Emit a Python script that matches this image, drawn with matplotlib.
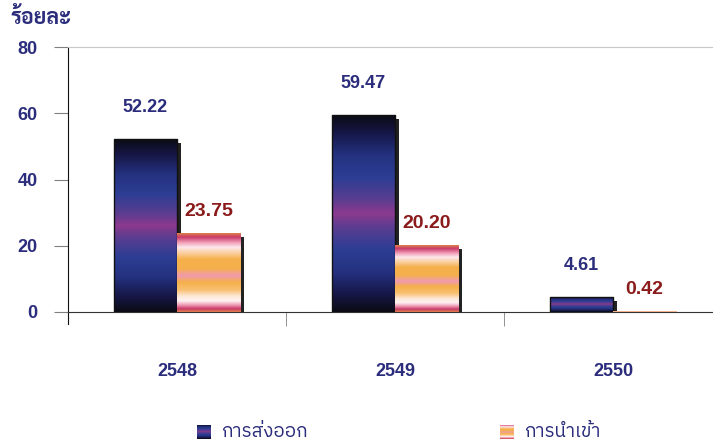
import numpy as np
import matplotlib
matplotlib.use('Agg')
import matplotlib.pyplot as plt
import matplotlib.transforms as mtransforms
from matplotlib.colors import LinearSegmentedColormap

# data
years = ['2548', '2549', '2550']
exports = [52.22, 59.47, 4.61]
imports = [23.75, 20.20, 0.42]
series_names = ['การส่งออก', 'การนำเข้า']
y_label = 'ร้อยละ'
y_ticks = [0, 20, 40, 60, 80]

NAVY = '#2b2d7c'
RED = '#8b1a1a'
plt.rcParams['font.family'] = ['Liberation Sans', 'DejaVu Sans']
THAI_BOLD = ['Sarabun', 'Noto Sans Thai', 'Liberation Sans']
THAI_LEGEND = ['IBM Plex Sans Thai', 'Noto Sans Thai', 'Liberation Sans']

export_cmap = LinearSegmentedColormap.from_list('exp', [
    (0.0, '#0b0b14'), (0.08, '#151542'), (0.2, '#24317f'), (0.32, '#2d3e94'),
    (0.43, '#5b3d90'), (0.5, '#8c3a8e'), (0.57, '#5b3d90'), (0.68, '#2d3e94'),
    (0.8, '#24317f'), (0.92, '#151542'), (1.0, '#0b0b14')])
import_cmap = LinearSegmentedColormap.from_list('imp', [
    (0.0, '#e0804a'), (0.05, '#c83a6a'), (0.12, '#f2a0b8'), (0.18, '#fde8ec'),
    (0.25, '#fbd0a0'), (0.33, '#f5b04c'), (0.45, '#f5b04c'), (0.54, '#f09ab0'),
    (0.62, '#f5b04c'), (0.72, '#f8c070'), (0.8, '#fde8d8'), (0.86, '#fff2f2'),
    (0.91, '#f0a0b8'), (0.96, '#c83a6a'), (1.0, '#e0804a')])
grad = np.linspace(0, 1, 256).reshape(-1, 1)


def fill_gradient(ax, bars, cmap):
    for b in bars:
        x0, w, h = b.get_x(), b.get_width(), b.get_height()
        im = ax.imshow(grad, cmap=cmap, aspect='auto', extent=(x0, x0 + w, 0, h),
                       zorder=b.get_zorder() + 0.1, interpolation='bilinear')
        im.set_clip_path(b)


fig = plt.figure(figsize=(7.13, 4.45), dpi=100)
ax = fig.add_axes([68 / 713, 133 / 445, 654 / 713, 265 / 445])

x = np.arange(len(years))
width = 0.29
shadow = mtransforms.offset_copy(ax.transData, fig=fig, x=4, y=-4, units='dots')

# shadows first
ax.bar(x - width / 2, exports, width, color='#222222', transform=shadow, zorder=2)
ax.bar(x + width / 2, imports, width, color='#222222', transform=shadow, zorder=2)

exp_bars = ax.bar(x - width / 2, exports, width, color='none', edgecolor='#111111',
                  linewidth=1.0, zorder=3)
imp_bars = ax.bar(x + width / 2, imports, width, color='none', edgecolor='#e08870',
                  linewidth=0.6, zorder=4)
fill_gradient(ax, exp_bars, export_cmap)
fill_gradient(ax, imp_bars, import_cmap)
for b in exp_bars:
    b.set_zorder(3.5)

for xi, v in zip(x, exports):
    ax.text(xi - width / 2, v + 9.5, f'{v:.2f}', ha='center', va='center',
            color=NAVY, fontsize=13, fontweight='bold')
for xi, v in zip(x, imports):
    ax.text(xi + width / 2, v + 6.5, f'{v:.2f}', ha='center', va='center',
            color=RED, fontsize=14, fontweight='bold')

ax.set_xlim(-0.5, 2.5)
ax.set_ylim(0, 80)
ax.set_yticks(y_ticks)
ax.set_yticklabels([str(t) for t in y_ticks], color=NAVY, fontsize=13, fontweight='bold')
ax.tick_params(axis='y', length=10, color='#808080', pad=12)
ax.set_xticks(x)
ax.set_xticklabels(years, color=NAVY, fontsize=13, fontweight='bold')
ax.tick_params(axis='x', which='major', length=0, pad=37)
ax.set_xticks([0.5, 1.5], minor=True)
ax.tick_params(axis='x', which='minor', length=10, color='#808080', direction='out')

ax.spines['right'].set_visible(False)
ax.spines['top'].set_color('#c8c8c8')
ax.spines['left'].set_color('#111111')
ax.spines['bottom'].set_color('#333333')
ax.spines['left'].set_bounds(-3.5, 80)
ax.spines['left'].set_clip_on(False)

fig.text(10 / 713, 1 - 18 / 445, y_label, color=NAVY, fontsize=15.5, fontweight='bold',
         va='center', ha='left', family=THAI_BOLD)

# legend with gradient swatches
for cmap, label, px in [(export_cmap, series_names[0], 197), (import_cmap, series_names[1], 500)]:
    sw = fig.add_axes([px / 713, 1 - 439 / 445, 14 / 713, 14 / 445])
    sw.imshow(grad, cmap=cmap, aspect='auto')
    sw.set_xticks([])
    sw.set_yticks([])
    for s in sw.spines.values():
        s.set_visible(False)
    fig.text((px + 24) / 713, 1 - 432 / 445, label, color=NAVY, fontsize=13.5,
             va='center', ha='left', family=THAI_LEGEND)

fig.savefig('out.png', dpi=100)
